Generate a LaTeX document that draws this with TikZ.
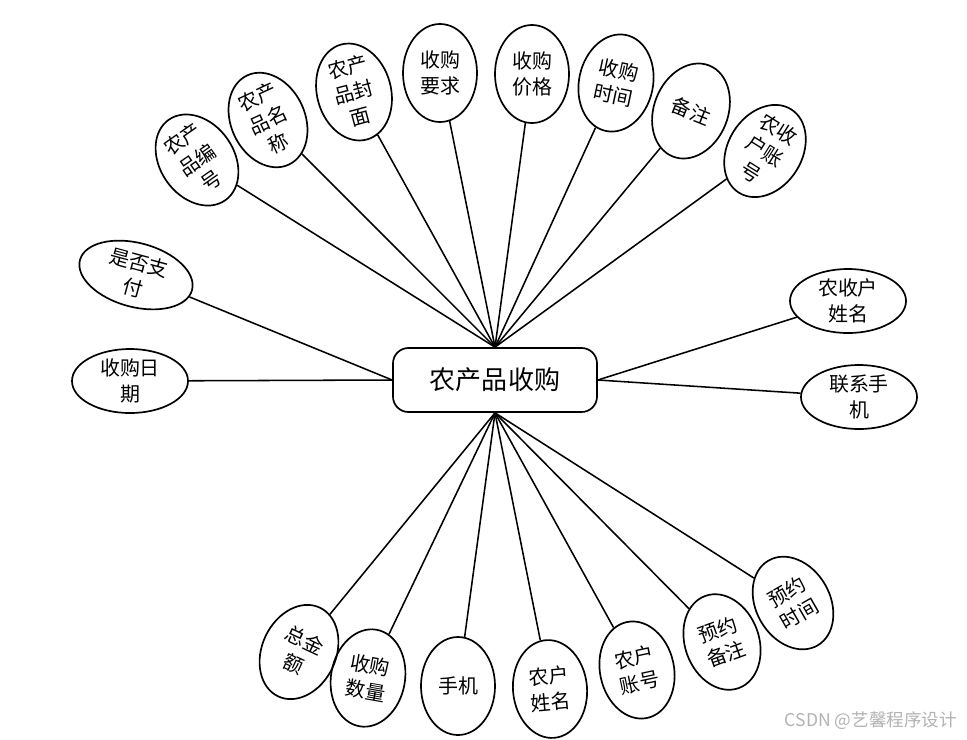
\documentclass[tikz,border=0pt]{standalone}
\usepackage{fontspec}
\setmainfont{Noto Sans CJK SC}
\usepackage{tikz}
\usetikzlibrary{shapes.geometric}

\begin{document}
\begin{tikzpicture}[
        x=0.025cm, y=-0.025cm,
        every node/.style={
            align=center,
            inner sep=0pt
        },
        entidade/.style={
            draw,
            line width=1.2pt,
            rounded corners=11pt,
            minimum width=5.1cm,
            minimum height=1.6cm,
            font=\fontsize{18.5}{22}\selectfont
        },
        atributo/.style={
            draw,
            ellipse,
            line width=1.2pt,
            minimum width=1.85cm,
            minimum height=2.45cm,
            font=\fontsize{14.2}{18.2}\selectfont
        },
        atrlargo/.style={
            atributo,
            minimum width=2.9cm,
            minimum height=1.6cm
        },
        ligacao/.style={
            line width=1.1pt
        }
    ]

    \useasboundingbox (0,0) rectangle (967,739);

    \node[entidade] (compra) at (495,380) {农产品收购};

    \node[atributo, rotate=35] (bianhao) at (197,160) {农产\\品编\\号};
    \node[atributo, rotate=25] (mingcheng) at (268,120) {农产\\品名\\称};
    \node[atributo, rotate=15] (fengmian) at (354,92) {农产\\品封\\面};
    \node[atributo] (yaoqiu) at (440,73) {收购\\要求};
    \node[atributo] (jiage) at (532,74) {收购\\价格};
    \node[atributo, rotate=-12] (shijian) at (616,83) {收购\\时间};
    \node[atributo, rotate=-22] (beizhu) at (691,111) {备注};
    \node[atributo, rotate=-32] (nszhanghao) at (765,151) {农收\\户账\\号};

    \node[atrlargo, rotate=-15] (zhifu) at (136,275) {是否支\\付};
    \node[atrlargo] (riqi) at (130,381) {收购日\\期};
    \node[atrlargo] (nsxingming) at (848,301) {农收户\\姓名};
    \node[atrlargo] (lianxi) at (859,397) {联系手\\机};

    \node[atributo, rotate=-25] (zongjine) at (299,652) {总金\\额};
    \node[atributo, rotate=-10] (shuliang) at (368,678) {收购\\数量};
    \node[atributo] (shouji) at (458,686) {手机};
    \node[atributo, rotate=5] (nhxingming) at (550,689) {农户\\姓名};
    \node[atributo, rotate=12] (nhzhanghao) at (637,670) {农户\\账号};
    \node[atributo, rotate=20] (yybeizhu) at (722,642) {预约\\备注};
    \node[atributo, rotate=30] (yyshijian) at (793,603) {预约\\时间};

    \node[text=black!30, font=\fontsize{12.5}{14}\selectfont] (marca) at (871,721) {CSDN @艺馨程序设计};

    \draw[ligacao] (compra.north) -- (bianhao);
    \draw[ligacao] (compra.north) -- (mingcheng);
    \draw[ligacao] (compra.north) -- (fengmian);
    \draw[ligacao] (compra.north) -- (yaoqiu);
    \draw[ligacao] (compra.north) -- (jiage);
    \draw[ligacao] (compra.north) -- (shijian);
    \draw[ligacao] (compra.north) -- (beizhu);
    \draw[ligacao] (compra.north) -- (nszhanghao);

    \draw[ligacao] (compra.west) -- (zhifu);
    \draw[ligacao] (compra.west) -- (riqi);
    \draw[ligacao] (compra.east) -- (nsxingming);
    \draw[ligacao] (compra.east) -- (lianxi);

    \draw[ligacao] (compra.south) -- (zongjine);
    \draw[ligacao] (compra.south) -- (shuliang);
    \draw[ligacao] (compra.south) -- (shouji);
    \draw[ligacao] (compra.south) -- (nhxingming);
    \draw[ligacao] (compra.south) -- (nhzhanghao);
    \draw[ligacao] (compra.south) -- (yybeizhu);
    \draw[ligacao] (compra.south) -- (yyshijian);

\end{tikzpicture}
\end{document}
